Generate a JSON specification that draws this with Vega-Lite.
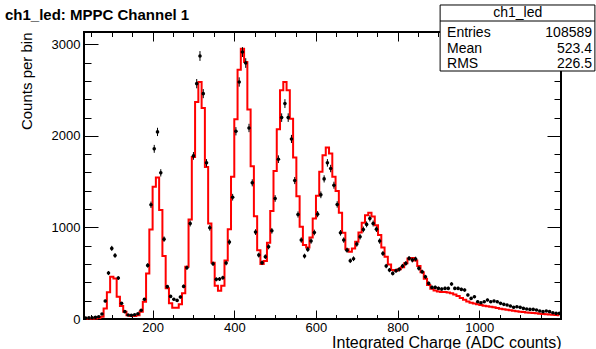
{
 "$schema": "https://vega.github.io/schema/vega-lite/v6.json",
 "width": 477, "height": 287,
 "autosize": {"type": "none"},
 "padding": {"left": 84, "top": 32, "right": 35, "bottom": 30},
 "background": "white",
 "title": {"text": "ch1_led: MPPC Channel 1", "anchor": "start", "frame": "group", "dx": -79, "dy": 45, "offset": 14, "baseline": "alphabetic", "fontSize": 15, "fontWeight": "bold", "font": "Liberation Sans", "color": "black"},
 "config": {
  "view": {"stroke": "black", "strokeWidth": 2},
  "font": "Liberation Sans",
  "axis": {"grid": false, "domain": false, "tickColor": "black", "tickWidth": 1, "labelColor": "black", "labelFont": "Liberation Sans", "labelFontSize": 13, "titleFont": "Liberation Sans", "titleFontWeight": "normal", "titleColor": "black", "titleFontSize": 15, "format": "d"}
 },
 "datasets": {
  "h": [
   {"x":36,"n":10,"e":3.2,"r":2},{"x":44,"n":12,"e":3.5,"r":3},{"x":52,"n":14,"e":3.7,"r":4},{"x":60,"n":18,"e":4.2,"r":6},{"x":68,"n":25,"e":5,"r":10},
   {"x":76,"n":55,"e":7.4,"r":25},{"x":84,"n":196,"e":14,"r":116},{"x":92,"n":502,"e":22.4,"r":291},{"x":100,"n":771,"e":27.8,"r":461},{"x":108,"n":694,"e":26.3,"r":443},
   {"x":116,"n":447,"e":21.1,"r":244},{"x":124,"n":171,"e":13.1,"r":142},{"x":132,"n":80,"e":8.9,"r":80},{"x":140,"n":44,"e":6.6,"r":40},{"x":148,"n":40,"e":6.3,"r":33},
   {"x":156,"n":47,"e":6.9,"r":33},{"x":164,"n":58,"e":7.6,"r":40},{"x":172,"n":95,"e":9.7,"r":80},{"x":180,"n":215,"e":14.7,"r":189},{"x":188,"n":585,"e":24.2,"r":498},
   {"x":196,"n":1247,"e":35.3,"r":978},{"x":204,"n":1858,"e":43.1,"r":1443},{"x":212,"n":2043,"e":45.2,"r":1545},{"x":220,"n":1596,"e":40,"r":1189},{"x":228,"n":872,"e":29.5,"r":687},
   {"x":236,"n":353,"e":18.8,"r":335},{"x":244,"n":247,"e":15.7,"r":171},{"x":252,"n":215,"e":14.7,"r":123},{"x":260,"n":203,"e":14.2,"r":123},{"x":268,"n":240,"e":15.5,"r":160},
   {"x":276,"n":356,"e":18.9,"r":280},{"x":284,"n":560,"e":23.7,"r":571},{"x":292,"n":1043,"e":32.3,"r":1087},{"x":300,"n":1781,"e":42.2,"r":1770},{"x":308,"n":2570,"e":50.7,"r":2370},
   {"x":316,"n":2872,"e":53.6,"r":2588},{"x":324,"n":2461,"e":49.6,"r":2305},{"x":332,"n":1705,"e":41.3,"r":1661},{"x":340,"n":996,"e":31.6,"r":1043},{"x":348,"n":603,"e":24.6,"r":614},
   {"x":356,"n":433,"e":20.8,"r":363},{"x":364,"n":436,"e":20.9,"r":309},{"x":372,"n":451,"e":21.2,"r":363},{"x":380,"n":611,"e":24.7,"r":640},{"x":388,"n":840,"e":29,"r":981},
   {"x":396,"n":1330,"e":36.5,"r":1552},{"x":404,"n":2050,"e":45.3,"r":2181},{"x":412,"n":2588,"e":50.9,"r":2723},{"x":420,"n":2915,"e":54,"r":2950},{"x":428,"n":2795,"e":52.9,"r":2806},
   {"x":436,"n":2086,"e":45.7,"r":2287},{"x":444,"n":1487,"e":38.6,"r":1668},{"x":452,"n":949,"e":30.8,"r":1123},{"x":460,"n":698,"e":26.4,"r":752},{"x":468,"n":614,"e":24.8,"r":600},
   {"x":476,"n":680,"e":26.1,"r":632},{"x":484,"n":789,"e":28.1,"r":832},{"x":492,"n":963,"e":31,"r":1178},{"x":500,"n":1316,"e":36.3,"r":1617},{"x":508,"n":1745,"e":41.8,"r":2072},
   {"x":516,"n":2199,"e":46.9,"r":2497},{"x":524,"n":2352,"e":48.5,"r":2588},{"x":532,"n":2199,"e":46.9,"r":2497},{"x":540,"n":1966,"e":44.3,"r":2188},{"x":548,"n":1512,"e":38.9,"r":1763},
   {"x":556,"n":1141,"e":33.8,"r":1341},{"x":564,"n":862,"e":29.4,"r":1007},{"x":572,"n":687,"e":26.2,"r":807},{"x":580,"n":760,"e":27.6,"r":781},{"x":588,"n":851,"e":29.2,"r":891},
   {"x":596,"n":945,"e":30.7,"r":1098},{"x":604,"n":1145,"e":33.8,"r":1345},{"x":612,"n":1356,"e":36.8,"r":1607},{"x":620,"n":1530,"e":39.1,"r":1788},{"x":628,"n":1705,"e":41.3,"r":1872},
   {"x":636,"n":1643,"e":40.5,"r":1807},{"x":644,"n":1461,"e":38.2,"r":1552},{"x":652,"n":1251,"e":35.4,"r":1399},{"x":660,"n":941,"e":30.7,"r":1159},{"x":668,"n":862,"e":29.4,"r":941},
   {"x":676,"n":752,"e":27.4,"r":763},{"x":684,"n":636,"e":25.2,"r":734},{"x":692,"n":658,"e":25.7,"r":771},{"x":700,"n":818,"e":28.6,"r":843},{"x":708,"n":898,"e":30,"r":945},
   {"x":716,"n":978,"e":31.3,"r":1050},{"x":724,"n":1033,"e":32.1,"r":1134},{"x":732,"n":1098,"e":33.1,"r":1159},{"x":740,"n":1043,"e":32.3,"r":1120},{"x":748,"n":981,"e":31.3,"r":1025},
   {"x":756,"n":851,"e":29.2,"r":916},{"x":764,"n":716,"e":26.8,"r":781},{"x":772,"n":578,"e":24,"r":680},{"x":780,"n":534,"e":23.1,"r":596},{"x":788,"n":498,"e":22.3,"r":534},
   {"x":796,"n":527,"e":23,"r":527},{"x":804,"n":542,"e":23.3,"r":542},{"x":812,"n":578,"e":24,"r":565},{"x":820,"n":607,"e":24.6,"r":610},{"x":828,"n":662,"e":25.7,"r":660},
   {"x":836,"n":643,"e":25.4,"r":665},{"x":844,"n":655,"e":25.6,"r":640},{"x":852,"n":553,"e":23.5,"r":580},{"x":860,"n":516,"e":22.7,"r":510},{"x":868,"n":461,"e":21.5,"r":440},
   {"x":876,"n":389,"e":19.7,"r":370},{"x":884,"n":345,"e":18.6,"r":330},{"x":892,"n":345,"e":18.6,"r":310},{"x":900,"n":334,"e":18.3,"r":300},{"x":908,"n":327,"e":18.1,"r":295},
   {"x":916,"n":334,"e":18.3,"r":295},{"x":924,"n":334,"e":18.3,"r":290},{"x":932,"n":382,"e":19.5,"r":280},{"x":940,"n":334,"e":18.3,"r":268},{"x":948,"n":334,"e":18.3,"r":250},
   {"x":956,"n":323,"e":18,"r":230},{"x":964,"n":316,"e":17.8,"r":210},{"x":972,"n":262,"e":16.2,"r":192},{"x":980,"n":225,"e":15,"r":178},{"x":988,"n":243,"e":15.6,"r":168},
   {"x":996,"n":189,"e":13.7,"r":160},{"x":1004,"n":178,"e":13.3,"r":152},{"x":1012,"n":189,"e":13.7,"r":146},{"x":1020,"n":207,"e":14.4,"r":140},{"x":1028,"n":189,"e":13.7,"r":134},
   {"x":1036,"n":196,"e":14,"r":127},{"x":1044,"n":189,"e":13.7,"r":120},{"x":1052,"n":171,"e":13.1,"r":113},{"x":1060,"n":160,"e":12.6,"r":106},{"x":1068,"n":153,"e":12.4,"r":100},
   {"x":1076,"n":142,"e":11.9,"r":95},{"x":1084,"n":127,"e":11.3,"r":90},{"x":1092,"n":134,"e":11.6,"r":85},{"x":1100,"n":127,"e":11.3,"r":80},{"x":1108,"n":116,"e":10.8,"r":76},
   {"x":1116,"n":109,"e":10.4,"r":72},{"x":1124,"n":105,"e":10.2,"r":68},{"x":1132,"n":105,"e":10.2,"r":65},{"x":1140,"n":98,"e":9.9,"r":62},{"x":1148,"n":87,"e":9.3,"r":58},
   {"x":1156,"n":80,"e":8.9,"r":55},{"x":1164,"n":87,"e":9.3,"r":52},{"x":1172,"n":80,"e":8.9,"r":50},{"x":1180,"n":69,"e":8.3,"r":47},{"x":1188,"n":62,"e":7.9,"r":44},
   {"x":1196,"n":62,"e":7.9,"r":42}
  ]
 },
 "data": {"name": "h"},
 "resolve": {"axis": {"x": "independent", "y": "independent"}},
 "layer": [
  {
   "mark": {"type": "line", "interpolate": "step", "color": "#ff0000", "strokeWidth": 2},
   "encoding": {
    "x": {"field": "x", "type": "quantitative", "scale": {"domain": [32, 1200], "nice": false, "zero": false},
          "axis": {"orient": "bottom", "values": [200, 400, 600, 800, 1000], "tickSize": -9, "labelPadding": 11, "title": "Integrated Charge (ADC counts)", "titleFontSize": 16, "titleAnchor": "end", "titleAlign": "right", "titleBaseline": "alphabetic", "titleX": 477, "titleY": 28}},
    "y": {"field": "r", "type": "quantitative", "scale": {"domain": [0, 3134], "nice": false, "zero": false},
          "axis": {"orient": "left", "values": [0, 1000, 2000, 3000], "tickSize": -14, "labelPadding": 18, "title": "Counts per bin", "titleAngle": -90, "titleAlign": "right", "titleBaseline": "alphabetic", "titleX": -53, "titleY": 0}}
   }
  },
  {
   "mark": {"type": "errorbar", "ticks": false, "rule": {"color": "black", "strokeWidth": 1}},
   "encoding": {
    "x": {"field": "x", "type": "quantitative", "scale": {"domain": [32, 1200], "nice": false, "zero": false}, "axis": null},
    "y": {"field": "n", "type": "quantitative", "scale": {"domain": [0, 3134], "nice": false, "zero": false}, "axis": null},
    "yError": {"field": "e"}
   }
  },
  {
   "mark": {"type": "point", "shape": "circle", "filled": true, "size": 13, "color": "black", "opacity": 1},
   "encoding": {
    "x": {"field": "x", "type": "quantitative", "scale": {"domain": [32, 1200], "nice": false, "zero": false},
          "axis": {"orient": "bottom", "values": [50,100,150,250,300,350,450,500,550,650,700,750,850,900,950,1050,1100,1150], "tickSize": -4.5, "labels": false, "title": null}},
    "y": {"field": "n", "type": "quantitative", "scale": {"domain": [0, 3134], "nice": false, "zero": false},
          "axis": {"orient": "left", "values": [200,400,600,800,1200,1400,1600,1800,2200,2400,2600,2800], "tickSize": -7, "labels": false, "title": null}}
   }
  },
  {
   "data": {"values": [{}]},
   "mark": {"type": "rect", "fill": "white", "stroke": "black", "strokeWidth": 1},
   "encoding": {
    "x": {"datum": 904, "type": "quantitative", "scale": {"domain": [32, 1200], "nice": false, "zero": false},
          "axis": {"orient": "top", "values": [200, 400, 600, 800, 1000], "tickSize": -9, "labels": false, "title": null}},
    "x2": {"datum": 1283},
    "y": {"datum": 3429, "type": "quantitative", "scale": {"domain": [0, 3134], "nice": false, "zero": false},
          "axis": {"orient": "right", "values": [0, 1000, 2000, 3000], "tickSize": -14, "labels": false, "title": null}},
    "y2": {"datum": 2708}
   }
  },
  {
   "data": {"values": [{}]},
   "mark": {"type": "rule", "color": "black", "strokeWidth": 1},
   "encoding": {
    "x": {"datum": 904, "type": "quantitative", "scale": {"domain": [32, 1200], "nice": false, "zero": false},
          "axis": {"orient": "top", "values": [50,100,150,250,300,350,450,500,550,650,700,750,850,900,950,1050,1100,1150], "tickSize": -4.5, "labels": false, "title": null}},
    "x2": {"datum": 1283},
    "y": {"datum": 3254, "type": "quantitative", "scale": {"domain": [0, 3134], "nice": false, "zero": false},
          "axis": {"orient": "right", "values": [200,400,600,800,1200,1400,1600,1800,2200,2400,2600,2800], "tickSize": -7, "labels": false, "title": null}}
   }
  },
  {
   "data": {"values": [{"t": "ch1_led"}]},
   "mark": {"type": "text", "align": "center", "baseline": "middle", "fontSize": 14, "color": "black"},
   "encoding": {"x": {"datum": 1094, "type": "quantitative", "axis": null}, "y": {"datum": 3342, "type": "quantitative", "axis": null}, "text": {"field": "t"}}
  },
  {
   "data": {"values": [{"label": "Entries", "value": "108589"}]},
   "layer": [
    {"mark": {"type": "text", "align": "left", "baseline": "middle", "fontSize": 14, "color": "black"},
     "encoding": {"x": {"datum": 921, "type": "quantitative", "axis": null}, "y": {"datum": 3123, "type": "quantitative", "axis": null}, "text": {"field": "label"}}},
    {"mark": {"type": "text", "align": "right", "baseline": "middle", "fontSize": 14, "color": "black"},
     "encoding": {"x": {"datum": 1276, "type": "quantitative", "axis": null}, "y": {"datum": 3123, "type": "quantitative", "axis": null}, "text": {"field": "value"}}}
   ]
  },
  {
   "data": {"values": [{"label": "Mean", "value": "523.4"}]},
   "layer": [
    {"mark": {"type": "text", "align": "left", "baseline": "middle", "fontSize": 14, "color": "black"},
     "encoding": {"x": {"datum": 921, "type": "quantitative", "axis": null}, "y": {"datum": 2948, "type": "quantitative", "axis": null}, "text": {"field": "label"}}},
    {"mark": {"type": "text", "align": "right", "baseline": "middle", "fontSize": 14, "color": "black"},
     "encoding": {"x": {"datum": 1276, "type": "quantitative", "axis": null}, "y": {"datum": 2948, "type": "quantitative", "axis": null}, "text": {"field": "value"}}}
   ]
  },
  {
   "data": {"values": [{"label": "RMS", "value": "226.5"}]},
   "layer": [
    {"mark": {"type": "text", "align": "left", "baseline": "middle", "fontSize": 14, "color": "black"},
     "encoding": {"x": {"datum": 921, "type": "quantitative", "axis": null}, "y": {"datum": 2785, "type": "quantitative", "axis": null}, "text": {"field": "label"}}},
    {"mark": {"type": "text", "align": "right", "baseline": "middle", "fontSize": 14, "color": "black"},
     "encoding": {"x": {"datum": 1276, "type": "quantitative", "axis": null}, "y": {"datum": 2785, "type": "quantitative", "axis": null}, "text": {"field": "value"}}}
   ]
  }
 ]
}
